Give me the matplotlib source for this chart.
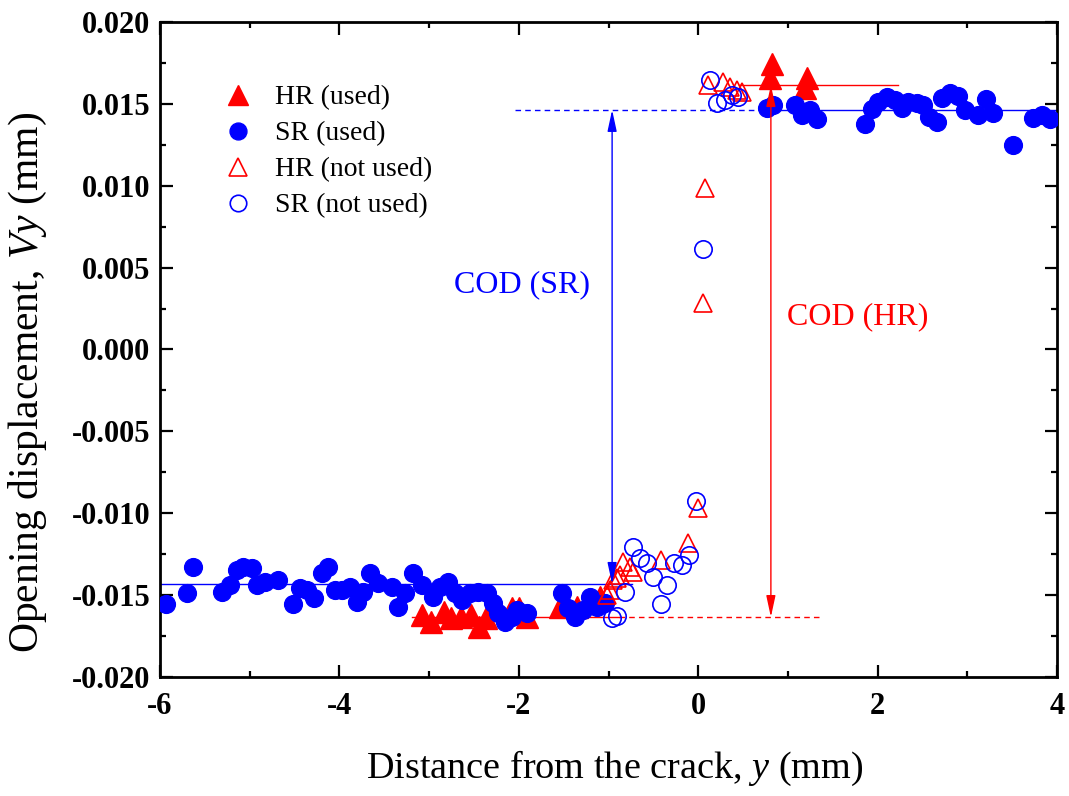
import matplotlib
matplotlib.use("Agg")
import matplotlib.pyplot as plt
from matplotlib.ticker import MultipleLocator, FormatStrFormatter

plt.rcParams['font.family'] = ['Liberation Serif', 'DejaVu Serif']
plt.rcParams['mathtext.fontset'] = 'custom'
plt.rcParams['mathtext.rm'] = 'Liberation Serif'
plt.rcParams['mathtext.it'] = 'Liberation Serif:italic'

# ---------------- data ----------------
sr_used_x = [-5.93, -5.70, -5.632, -5.309, -5.22, -5.142, -5.075, -4.974, -4.919, -4.829,
             -4.684, -4.517, -4.439, -4.361, -4.283, -4.194, -4.127, -4.049, -3.971, -3.881,
             -3.804, -3.737, -3.659, -3.570, -3.414, -3.347, -3.269, -3.18, -3.079, -2.957,
             -2.878, -2.789, -2.711, -2.633, -2.544, -2.455, -2.355, -2.288, -2.232, -2.154,
             -2.076, -2.02, -1.909, -1.518, -1.452, -1.373, -1.284, -1.206, -1.128, -1.039,
             0.767, 0.834, 1.079, 1.157, 1.246, 1.324, 1.860, 1.938, 2.004, 2.105,
             2.194, 2.272, 2.339, 2.439, 2.506, 2.573, 2.662, 2.718, 2.807, 2.896,
             2.974, 3.119, 3.208, 3.287, 3.51, 3.733, 3.833, 3.922]
sr_used_v = [-0.01556, -0.01487, -0.01328, -0.01481, -0.01438, -0.01347, -0.01328, -0.01334, -0.01438, -0.01420,
             -0.01408, -0.01554, -0.01457, -0.01469, -0.01518, -0.01365, -0.01328, -0.01469, -0.01469, -0.01450,
             -0.01542, -0.01481, -0.01365, -0.01426, -0.01450, -0.01573, -0.01487, -0.01365, -0.01438, -0.01511,
             -0.01450, -0.01420, -0.01487, -0.01530, -0.01487, -0.01481, -0.01487, -0.01548, -0.01609, -0.01664,
             -0.01634, -0.01591, -0.01609, -0.01487, -0.01579, -0.01634, -0.01591, -0.01511, -0.01573, -0.01548,
             0.01475, 0.01493, 0.01493, 0.01432, 0.01463, 0.01408, 0.01377, 0.01469, 0.01511, 0.01542,
             0.01524, 0.01475, 0.01511, 0.01505, 0.01493, 0.01420, 0.01389, 0.01536, 0.01566, 0.01548,
             0.01463, 0.01432, 0.01530, 0.01444, 0.01249, 0.01414, 0.01432, 0.01408]

hr_used_x = [-3.079, -2.979, -2.833, -2.755, -2.644, -2.532, -2.443, -2.366, -2.076, -2.0,
             -1.909, -1.54, -1.351, -1.239, -1.095,
             0.82, 0.80, 1.21, 1.19]
hr_used_v = [-0.01621, -0.01664, -0.01603, -0.01640, -0.01634, -0.01621, -0.01695, -0.01640, -0.01579, -0.01579,
             -0.01634, -0.01573, -0.01573, -0.01548, -0.01511,
             0.01744, 0.01658, 0.01658, 0.01597]

hr_not_x = [0.109, 0.276, 0.355, 0.433, 0.488,
            0.076, 0.054, -0.002,
            -0.114, -0.415, -0.839, -0.76, -0.727, -0.872, -0.905, -0.95, -0.983, -1.017]
hr_not_v = [0.01615, 0.01634, 0.01603, 0.01585, 0.01573,
            0.00986, 0.00284, -0.00968,
            -0.01182, -0.01285, -0.01298, -0.01328, -0.01359, -0.01377, -0.01395, -0.01408, -0.01469, -0.01499]

sr_not_x = [0.131, 0.21, 0.299, 0.377, 0.444,
            0.054, -0.025,
            -0.727, -0.649, -0.571, -0.504, -0.348, -0.415, -0.27, -0.181, -0.103, -0.816, -0.905, -0.961]
sr_not_v = [0.01646, 0.01505, 0.01524, 0.01554, 0.01542,
            0.00614, -0.00925,
            -0.01206, -0.01273, -0.01304, -0.01389, -0.01438, -0.01554, -0.01304, -0.01316, -0.01255, -0.01481, -0.01628, -0.01640]

# reference levels
sr_low, sr_high = -0.01432, 0.01463
hr_low, hr_high = -0.01634, 0.01615
sr_cod_x, hr_cod_x = -0.96, 0.81

BLUE = '#0000ff'
RED = '#ff0000'

fig = plt.figure(figsize=(10.69, 7.96), dpi=100)
ax = fig.add_axes([0.1497, 0.1495, 0.8391, 0.8229])

# horizontal reference lines
ax.plot([-6, -0.74], [sr_low, sr_low], color=BLUE, lw=1.0, zorder=1)
ax.plot([-2.04, 0.745], [sr_high, sr_high], color=BLUE, lw=1.0, ls=(0, (4, 3)), zorder=1)
ax.plot([0.745, 4], [sr_high, sr_high], color=BLUE, lw=1.0, zorder=1)
ax.plot([0.46, 2.227], [hr_high, hr_high], color=RED, lw=1.0, zorder=1)
ax.plot([-3.19, -0.88], [hr_low, hr_low], color=RED, lw=1.0, zorder=1)
ax.plot([-0.88, 1.39], [hr_low, hr_low], color=RED, lw=1.0, ls=(0, (4, 3)), zorder=1)

# data
ax.plot(hr_used_x, hr_used_v, ls='none', marker='^', ms=15.5, color=RED, mec=RED, zorder=3, label='HR (used)')
ax.plot(sr_used_x, sr_used_v, ls='none', marker='o', ms=12.8, color=BLUE, mec=BLUE, zorder=4, label='SR (used)')
ax.plot(hr_not_x, hr_not_v, ls='none', marker='^', ms=13.5, mfc='none', mec=RED, mew=1.2, zorder=5, label='HR (not used)')
ax.plot(sr_not_x, sr_not_v, ls='none', marker='o', ms=12.5, mfc='none', mec=BLUE, mew=1.2, zorder=5, label='SR (not used)')

# COD arrows
ax.annotate('', xy=(sr_cod_x, sr_high), xytext=(sr_cod_x, sr_low),
            arrowprops=dict(arrowstyle='<|-|>,head_length=1.3,head_width=0.28', mutation_scale=10,
                            color=BLUE, lw=1.0, shrinkA=0, shrinkB=0), zorder=6)
ax.annotate('', xy=(hr_cod_x, hr_high), xytext=(hr_cod_x, hr_low),
            arrowprops=dict(arrowstyle='<|-|>,head_length=1.3,head_width=0.28', mutation_scale=10,
                            color=RED, lw=1.0, shrinkA=0, shrinkB=0), zorder=6)
ax.text(-1.964, 0.00394, 'COD (SR)', color=BLUE, fontsize=23, ha='center', va='center')
ax.text(1.78, 0.00198, 'COD (HR)', color=RED, fontsize=23, ha='center', va='center')

ax.set_xlim(-6, 4)
ax.set_ylim(-0.020, 0.020)
ax.xaxis.set_major_locator(MultipleLocator(2))
ax.xaxis.set_minor_locator(MultipleLocator(1))
ax.yaxis.set_major_locator(MultipleLocator(0.005))
ax.yaxis.set_minor_locator(MultipleLocator(0.0025))
ax.yaxis.set_major_formatter(FormatStrFormatter('%.3f'))
ax.xaxis.set_major_formatter(FormatStrFormatter('%d'))
ax.tick_params(which='both', direction='in', top=True, right=True, width=1.6)
ax.tick_params(which='major', length=9)
ax.tick_params(which='minor', length=4.5)
ax.tick_params(axis='both', labelsize=22)
ax.tick_params(axis='x', pad=11)
ax.tick_params(axis='y', pad=7)
for lab in ax.get_xticklabels() + ax.get_yticklabels():
    lab.set_fontweight('bold')
for s in ax.spines.values():
    s.set_linewidth(2.0)

ax.set_xlabel('Distance from the crack, $y$ (mm)', fontsize=27.5)
ax.set_ylabel('Opening displacement, $Vy$ (mm)', fontsize=30)
ax.xaxis.set_label_coords(0.507, -0.110)
ax.yaxis.set_label_coords(-0.124, 0.449)

leg = ax.legend(loc='upper left', bbox_to_anchor=(0.04, 0.942), frameon=False, fontsize=20,
                handlelength=1.2, handletextpad=0.75, labelspacing=0.38, numpoints=1, markerscale=0.95)

fig.savefig('out.png', dpi=100)
